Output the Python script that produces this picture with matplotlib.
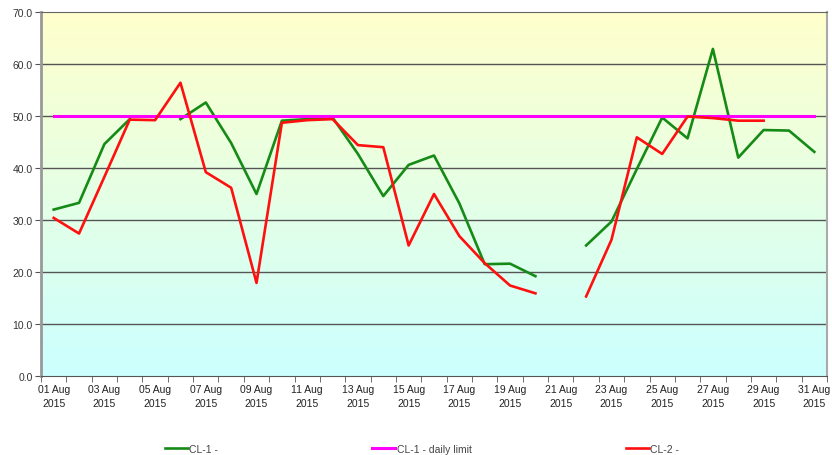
import numpy as np
import matplotlib
matplotlib.use("Agg")
import matplotlib.pyplot as plt
from matplotlib.colors import LinearSegmentedColormap

nan = np.nan
days = [f"{d:02d} Aug\n2015" for d in range(1, 32)]

cl1 = [32.0, 33.3, 44.6, 49.4, nan, 49.4, 52.6, 44.8, 35.0, 49.1,
       49.4, 49.7, 42.7, 34.6, 40.6, 42.4, 33.2, 21.5, 21.6, 19.2,
       nan, 25.1, 29.7, 39.8, 49.7, 45.7, 62.9, 42.0, 47.3, 47.2, 43.1]
cl2 = [30.4, 27.4, 38.3, 49.3, 49.2, 56.4, 39.2, 36.2, 17.9, 48.7,
       49.2, 49.4, 44.4, 44.0, 25.1, 35.0, 26.9, 21.7, 17.4, 15.9,
       nan, 15.3, 26.2, 45.9, 42.7, 49.9, 49.6, 49.1, 49.1, nan, nan]
limit = [50.0] * 31

yticks = [0, 10, 20, 30, 40, 50, 60, 70]

plt.rcParams['font.family'] = ['Liberation Sans', 'DejaVu Sans']

fig = plt.figure(figsize=(8.32, 4.56), dpi=100)
ax = fig.add_axes([41/832, 1 - 377/456, 786/832, 364/456])

x = np.arange(len(days))

# gradient background
cmap = LinearSegmentedColormap.from_list("bg", ["#ccffff", "#ffffcc"])
grad = np.linspace(0, 1, 256).reshape(-1, 1)
ax.imshow(grad, cmap=cmap, origin="lower", aspect="auto",
          extent=[-0.5, 30.5, 0, 70], zorder=0)

for v in yticks[1:-1]:
    ax.axhline(v, color="#555555", lw=1.0, zorder=1)

ax.plot(x, cl1, color="#168a16", lw=1.9, zorder=3, label="CL-1 -")
ax.plot(x, limit, color="#ff00ff", lw=2.2, zorder=4, label="CL-1 - daily limit")
ax.plot(x, cl2, color="#ff0f0f", lw=1.9, zorder=5, label="CL-2 -")

ax.set_xlim(-0.5, 30.5)
ax.set_ylim(0, 70)

ax.set_yticks(yticks)
ax.set_yticklabels([f"{v:.1f}" for v in yticks], fontsize=7.5, color="#333333")
ax.tick_params(axis="y", length=4, color="#555555", pad=2)

ax.set_xticks(x[::2])
ax.set_xticklabels(days[::2], fontsize=7.5, color="#222222", linespacing=1.45)
ax.tick_params(axis="x", which="major", length=0, pad=6)
ax.set_xticks(np.arange(-0.5, 31, 1), minor=True)
ax.tick_params(axis="x", which="minor", length=4, color="#555555")

ax.spines["left"].set_color("#999999")
ax.spines["left"].set_linewidth(2)
ax.spines["top"].set_color("#666666")
ax.spines["right"].set_color("#aaaaaa")
ax.spines["right"].set_linewidth(1.5)
ax.spines["bottom"].set_color("#555555")

leg = fig.legend(loc="center", bbox_to_anchor=(422/832, 6/456), ncol=3,
                 frameon=False, fontsize=7.5, handlelength=2.2, handletextpad=0.15,
                 columnspacing=14.8, borderaxespad=0)
for t in leg.get_texts():
    t.set_color("#444444")

fig.savefig("out.png", dpi=100)
